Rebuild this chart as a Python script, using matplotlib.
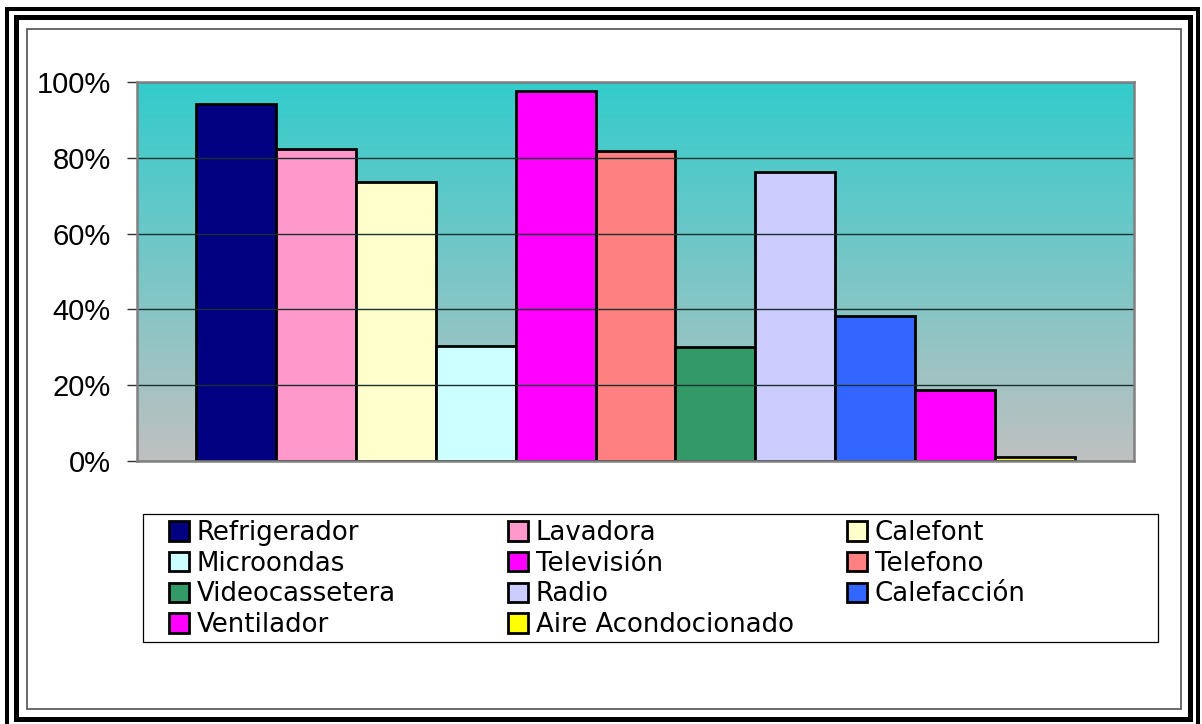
import numpy as np
import matplotlib.pyplot as plt
from matplotlib.patches import Rectangle
from matplotlib.ticker import PercentFormatter

# ---- data: share of households owning each appliance (%) ----
aparatos = ["Refrigerador", "Lavadora", "Calefont", "Microondas", "Televisión",
            "Telefono", "Videocassetera", "Radio", "Calefacción", "Ventilador",
            "Aire Acondocionado"]
porcentajes = [94.1, 82.2, 73.7, 30.3, 97.7, 81.8, 30.1, 76.3, 38.3, 18.7, 1.0]
colores = ["#000080", "#FF99CC", "#FFFFCC", "#CCFFFF", "#FF00FF", "#FF8080",
           "#339966", "#CCCCFF", "#3366FF", "#FF00FF", "#FFFF00"]
yticks = [0, 20, 40, 60, 80, 100]

W, H = 1202, 724
fig = plt.figure(figsize=(W / 100, H / 100), dpi=100)
fig.patch.set_facecolor("white")


def px_rect(x0, y0, x1, y1, **kw):
    # rectangle given in pixel coords (origin top-left)
    r = Rectangle((x0 / W, 1 - y1 / H), (x1 - x0) / W, (y1 - y0) / H,
                  transform=fig.transFigure, fill=False, **kw)
    fig.add_artist(r)


# double black page border + thin chart-area frame
px_rect(7, 9, 1197.5, 730, lw=2.9, edgecolor="black")
px_rect(15.5, 17, 1189.5, 719, lw=3.6, edgecolor="black")
px_rect(27, 29, 1181, 709, lw=1.2, edgecolor="#505050")

ax = fig.add_axes([137 / W, 1 - 461 / H, (1134 - 137) / W, (461 - 82) / H])

# vertical gradient background of plot area
top = np.array([51, 204, 204]) / 255
bot = np.array([192, 192, 192]) / 255
t = np.linspace(0, 1, 256)[:, None, None]
grad = top * (1 - t) + bot * t
xlim = (-1.24, 11.24)
ax.imshow(grad, extent=(xlim[0], xlim[1], 0, 100), aspect="auto",
          origin="upper", zorder=0, interpolation="bilinear")

for i, (nombre, val, col) in enumerate(zip(aparatos, porcentajes, colores)):
    ax.bar(i, val, width=1.0, color=col, edgecolor="black", linewidth=2.0,
           label=nombre, zorder=2)

ax.set_xlim(*xlim)
ax.set_ylim(0, 100)
ax.set_yticks(yticks)
ax.yaxis.set_major_formatter(PercentFormatter(decimals=0))
ax.set_xticks([])
ax.yaxis.grid(True, color="#1a3030", linewidth=1.0)
ax.set_axisbelow(False)
for gl in ax.get_ygridlines():
    gl.set_zorder(1)

for s in ax.spines.values():
    s.set_color("#808080")
    s.set_linewidth(1.8)
    s.set_zorder(3)
ax.tick_params(axis="y", length=7, width=1, color="#303030", pad=12,
               labelsize=21, labelfontfamily="Liberation Sans")

# legend: three columns of equal width inside a thin frame
px_rect(143, 514, 1158, 642, lw=0.9, edgecolor="black")
handles, labels = ax.get_legend_handles_labels()
col_x = [169, 508, 847]
for c in range(3):
    fig.legend(handles[c::3], labels[c::3], loc="upper left",
               bbox_to_anchor=(col_x[c] / W, 1 - 520 / H),
               frameon=False, borderpad=0, borderaxespad=0,
               handlelength=0.76, handleheight=0.76, handletextpad=0.3,
               labelspacing=0.18,
               prop={"family": "DejaVu Sans", "size": 18.7})

fig.savefig("out.png", dpi=100)
